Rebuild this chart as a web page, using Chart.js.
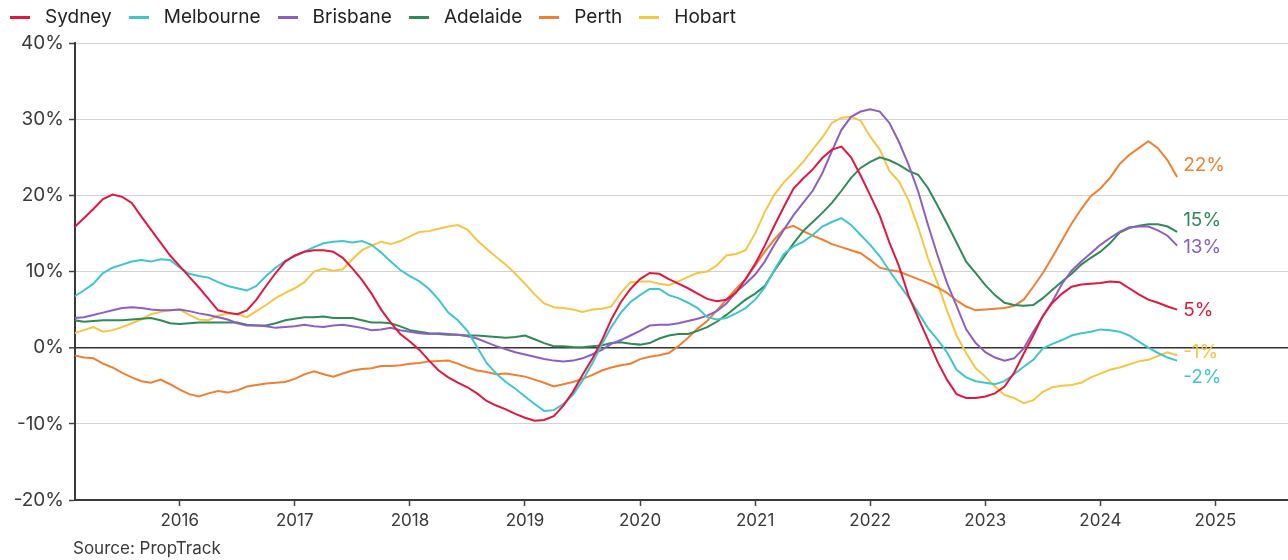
<!DOCTYPE html>
<html>
<head>
<meta charset="utf-8">
<script src="https://cdn.jsdelivr.net/npm/chart.js@4.4.1/dist/chart.umd.min.js"></script>
<style>
html,body{margin:0;padding:0;background:#fff;}
#wrap{position:relative;width:1288px;height:560px;overflow:hidden;}
#c{position:absolute;left:0;top:0;}
#legend{position:absolute;left:10px;top:5px;display:flex;align-items:center;font-family:Inter,sans-serif;font-size:19px;color:#222;line-height:24px;white-space:nowrap;}
.item{display:flex;align-items:center;margin-right:17px;}
.sw{display:inline-block;width:20px;height:3px;margin-right:15px;}
#source{position:absolute;left:73px;top:537px;font-family:Inter,sans-serif;font-size:17px;color:#3a3a3a;line-height:22px;}
</style>
</head>
<body>
<div id="wrap">
  <canvas id="c" width="1288" height="560"></canvas>
  <div id="legend"></div>
  <div id="source">Source: PropTrack</div>
</div>
<script>
// ---- data (annual % change, monthly from Feb 2015 to Sep 2024) ----
const firstYear = 2015;
const firstMonth = 2;
const seriesNames = ['Sydney','Melbourne','Brisbane','Adelaide','Perth','Hobart'];
const seriesColors = ['#e2173f','#3fc6cc','#8c5fc0','#2f8a58','#ef7f31','#f5c644'];

const sydney = [15.8,17.0,18.2,19.5,20.1,19.8,19.0,17.2,15.5,13.8,
 12.1,10.7,9.3,7.9,6.4,4.9,4.6,4.4,4.9,6.3,
 8.1,9.8,11.3,12.1,12.6,12.8,12.8,12.6,11.8,10.4,
 8.9,7.1,5.0,3.3,1.8,0.8,-0.3,-1.7,-3.0,-3.9,
 -4.6,-5.2,-6.0,-7.0,-7.6,-8.1,-8.7,-9.2,-9.6,-9.5,
 -9.0,-7.6,-5.8,-3.6,-1.5,0.9,3.7,6.0,7.7,9.0,
 9.8,9.7,9.0,8.4,7.8,7.1,6.4,6.1,6.3,7.2,
 9.0,11.0,13.4,16.0,18.5,20.9,22.2,23.4,24.9,26.0,
 26.4,25.0,22.6,20.0,17.3,13.8,10.7,6.8,3.9,1.1,
 -1.8,-4.2,-6.1,-6.6,-6.6,-6.4,-6.0,-5.1,-3.3,-0.8,
 1.6,4.2,5.9,7.1,8.0,8.3,8.4,8.5,8.7,8.6,
 7.8,7.0,6.3,5.9,5.4,5.0];

const melbourne = [6.7,7.5,8.4,9.8,10.5,10.9,11.3,11.5,11.3,11.6,
 11.5,10.5,9.7,9.4,9.2,8.6,8.1,7.8,7.5,8.1,
 9.4,10.5,11.4,12.0,12.6,13.2,13.7,13.9,14.0,13.8,
 14.0,13.5,12.5,11.3,10.2,9.4,8.7,7.7,6.3,4.6,
 3.6,2.2,0.1,-2.0,-3.4,-4.5,-5.4,-6.4,-7.4,-8.3,
 -8.2,-7.4,-6.2,-4.3,-2.1,0.4,2.7,4.6,6.0,6.9,
 7.7,7.7,6.9,6.5,5.9,5.2,4.0,3.7,3.9,4.5,
 5.2,6.3,7.9,10.2,12.3,13.3,13.9,14.8,15.9,16.5,
 17.0,16.1,14.8,13.5,12.0,10.1,8.3,6.6,4.6,2.6,
 1.1,-0.6,-2.9,-3.9,-4.4,-4.6,-4.8,-4.4,-3.5,-2.5,
 -1.6,-0.1,0.5,1.0,1.6,1.9,2.1,2.4,2.3,2.1,
 1.6,0.8,0.0,-0.7,-1.3,-1.7];

const brisbane = [3.9,4.0,4.3,4.6,4.9,5.2,5.3,5.2,5.0,4.9,
 4.9,5.0,4.8,4.5,4.3,4.0,3.7,3.2,2.9,2.9,
 2.8,2.6,2.7,2.8,3.0,2.8,2.7,2.9,3.0,2.8,
 2.6,2.3,2.4,2.6,2.3,2.1,1.9,1.8,1.9,1.8,
 1.7,1.5,1.2,0.7,0.2,-0.2,-0.6,-0.9,-1.2,-1.5,
 -1.7,-1.8,-1.7,-1.4,-0.9,-0.3,0.5,1.0,1.6,2.2,
 2.9,3.0,3.0,3.2,3.5,3.8,4.2,4.8,5.8,7.3,
 8.4,9.6,11.3,13.5,15.5,17.4,19.0,20.6,22.9,25.8,
 28.6,30.3,31.0,31.3,31.0,29.5,27.0,24.0,20.5,16.2,
 12.2,8.5,5.5,2.4,0.6,-0.6,-1.3,-1.7,-1.4,-0.1,
 2.1,4.1,6.1,8.4,10.1,11.3,12.4,13.5,14.4,15.2,
 15.8,15.9,15.9,15.4,14.7,13.4];

const adelaide = [3.6,3.4,3.5,3.6,3.6,3.6,3.7,3.8,3.9,3.6,
 3.2,3.1,3.2,3.3,3.3,3.3,3.3,3.3,3.0,2.9,
 2.9,3.2,3.6,3.8,4.0,4.0,4.1,3.9,3.9,3.9,
 3.6,3.3,3.3,3.2,2.8,2.3,2.1,1.9,1.8,1.7,
 1.7,1.6,1.6,1.5,1.4,1.3,1.4,1.6,1.1,0.6,
 0.2,0.2,0.1,0.05,0.2,0.3,0.6,0.7,0.5,0.4,
 0.6,1.2,1.6,1.8,1.8,2.2,2.7,3.4,4.3,5.3,
 6.3,7.1,8.1,10.1,11.9,13.7,15.3,16.5,17.7,19.0,
 20.6,22.3,23.6,24.4,25.0,24.6,24.0,23.2,22.7,21.0,
 18.7,16.3,13.8,11.3,9.8,8.2,6.9,5.9,5.6,5.5,
 5.6,6.5,7.6,8.7,9.7,10.9,11.8,12.6,13.7,15.1,
 15.7,16.0,16.2,16.2,15.9,15.2];

const perth = [-1.0,-1.3,-1.4,-2.1,-2.6,-3.3,-3.9,-4.4,-4.6,-4.2,
 -4.8,-5.5,-6.1,-6.4,-6.0,-5.7,-5.9,-5.6,-5.1,-4.9,
 -4.7,-4.6,-4.5,-4.1,-3.5,-3.1,-3.5,-3.8,-3.4,-3.0,
 -2.8,-2.7,-2.4,-2.4,-2.3,-2.1,-2.0,-1.8,-1.75,-1.7,
 -2.1,-2.6,-3.0,-3.2,-3.5,-3.4,-3.6,-3.8,-4.2,-4.6,
 -5.1,-4.8,-4.5,-4.1,-3.6,-3.0,-2.6,-2.3,-2.1,-1.5,
 -1.2,-1.0,-0.7,0.2,1.3,2.5,3.5,4.9,6.3,7.7,
 9.0,10.8,12.6,14.2,15.6,16.0,15.3,14.7,14.2,13.6,
 13.2,12.8,12.4,11.5,10.5,10.2,10.0,9.5,9.0,8.5,
 7.9,7.2,6.2,5.4,4.9,5.0,5.1,5.2,5.5,6.3,
 8.0,9.8,11.9,14.1,16.3,18.2,19.9,20.9,22.3,24.1,
 25.3,26.2,27.1,26.2,24.6,22.4];

const hobart = [1.9,2.3,2.7,2.1,2.3,2.7,3.2,3.7,4.4,4.7,
 4.9,5.0,4.3,3.7,3.6,4.2,4.5,4.4,4.0,4.8,
 5.6,6.5,7.2,7.8,8.6,10.0,10.4,10.1,10.3,11.6,
 12.8,13.4,13.9,13.6,14.0,14.6,15.2,15.3,15.6,15.9,
 16.1,15.5,14.1,13.0,11.9,10.9,9.7,8.4,7.0,5.8,
 5.3,5.2,5.0,4.7,5.0,5.1,5.4,7.2,8.6,8.7,
 8.7,8.4,8.2,8.7,9.3,9.8,10.0,10.8,12.1,12.3,
 12.8,15.0,17.8,20.1,21.7,23.0,24.4,26.0,27.6,29.5,
 30.2,30.3,29.8,27.7,26.0,23.2,21.8,19.3,15.8,11.8,
 8.5,4.9,1.6,-0.7,-2.7,-3.8,-5.1,-6.2,-6.6,-7.3,
 -6.9,-5.8,-5.2,-5.0,-4.9,-4.6,-3.9,-3.4,-2.9,-2.6,
 -2.2,-1.8,-1.6,-1.1,-0.6,-1.0];

const allSeries = [sydney, melbourne, brisbane, adelaide, perth, hobart];
const endLabels = ['5%','-2%','13%','15%','22%','-1%'];
const endLabelValue = [4.9,-3.9,13.2,16.7,24.0,-0.6];
const yTickValues = [-20,-10,0,10,20,30,40];
const xTickYears = [2016,2017,2018,2019,2020,2021,2022,2023,2024,2025];

// ---- legend (HTML) ----
const legendEl = document.getElementById('legend');
seriesNames.forEach((n,i)=>{
  const it = document.createElement('div'); it.className='item';
  const sw = document.createElement('span'); sw.className='sw'; sw.style.background=seriesColors[i];
  const tx = document.createElement('span'); tx.textContent=n;
  it.appendChild(sw); it.appendChild(tx); legendEl.appendChild(it);
});

const monthX = i => firstYear + (firstMonth - 1 + i) / 12;

const datasets = allSeries.map((arr,i)=>({
  label: seriesNames[i],
  data: arr.map((v,j)=>({x: monthX(j), y: v})),
  borderColor: seriesColors[i],
  backgroundColor: seriesColors[i],
  borderWidth: 2,
  pointRadius: 0,
  tension: 0,
  fill: false
}));

const endLabelPlugin = {
  id: 'endLabels',
  afterDatasetsDraw(chart){
    const {ctx, scales:{x, y}} = chart;
    ctx.save();
    ctx.font = '19px Inter';
    ctx.textAlign = 'left';
    ctx.textBaseline = 'middle';
    chart.data.datasets.forEach((ds,i)=>{
      const last = ds.data[ds.data.length-1];
      ctx.fillStyle = ds.borderColor;
      ctx.fillText(endLabels[i], x.getPixelForValue(last.x) + 6, y.getPixelForValue(endLabelValue[i]));
    });
    ctx.restore();
  }
};

function build(){
  new Chart(document.getElementById('c'), {
    type: 'line',
    data: { datasets },
    options: {
      responsive: false,
      animation: false,
      devicePixelRatio: 1,
      layout: { padding: { left: 0, right: 0, top: 43, bottom: 28 } },
      plugins: { legend: { display: false }, tooltip: { enabled: false } },
      scales: {
        x: {
          type: 'linear',
          min: 2015.09,
          max: 2025.63,
          afterBuildTicks: s => { s.ticks = xTickYears.map(v=>({value:v})); },
          afterFit: s => { s.height = 32; },
          ticks: { callback: v => String(v), font: { family: 'Inter', size: 17 }, color: '#3a3a3a', padding: 5, maxRotation: 0, autoSkip: false },
          grid: { drawOnChartArea: false, tickLength: 6, tickColor: '#444', tickWidth: 1.5 },
          border: { display: true, color: '#3a3a3a', width: 2 }
        },
        y: {
          min: -20, max: 40,
          afterBuildTicks: s => { s.ticks = yTickValues.map(v=>({value:v})); },
          afterFit: s => { s.width = 75; },
          ticks: { callback: v => v + '%', font: { family: 'Inter', size: 19 }, color: '#3a3a3a', padding: 5 },
          grid: {
            color: c => c.tick && c.tick.value === 0 ? '#333' : '#d2d2d2',
            lineWidth: c => c.tick && c.tick.value === 0 ? 1.6 : 1,
            tickLength: 6, tickColor: '#444', tickWidth: 1.5
          },
          border: { display: true, color: '#3a3a3a', width: 2 }
        }
      }
    },
    plugins: [endLabelPlugin]
  });
}
if (document.fonts && document.fonts.load) {
  Promise.all([document.fonts.load('19px Inter'), document.fonts.load('17px Inter')]).then(build, build);
} else { build(); }
</script>
</body>
</html>
